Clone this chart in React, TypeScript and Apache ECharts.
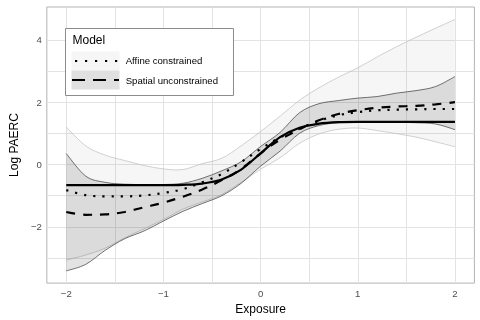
import React, { useEffect, useRef } from 'react';
import * as echarts from 'echarts';

// ---- data ----
const exposure = [-2, -1.8, -1.6, -1.4, -1.2, -1, -0.8, -0.6, -0.4, -0.2, 0, 0.2, 0.4, 0.6, 0.8, 1, 1.2, 1.4, 1.6, 1.8, 2];

const truth = [-0.66, -0.66, -0.66, -0.66, -0.66, -0.66, -0.65, -0.61, -0.48, -0.16, 0.36, 0.88, 1.18, 1.31, 1.36, 1.37, 1.37, 1.37, 1.37, 1.37, 1.37];

const affineFit = [-0.82, -0.98, -1.02, -1.02, -0.99, -0.91, -0.79, -0.57, -0.3, 0.08, 0.5, 0.87, 1.15, 1.4, 1.58, 1.68, 1.74, 1.76, 1.77, 1.78, 1.78];
const affineUpper = [1.2, 0.6, 0.3, 0.13, -0.03, -0.14, -0.16, 0.03, 0.2, 0.6, 1.06, 1.55, 2.06, 2.46, 2.8, 3.1, 3.45, 3.78, 4.08, 4.37, 4.65];
const affineLower = [-3.06, -2.9, -2.68, -2.35, -2.06, -1.76, -1.43, -1.2, -0.96, -0.57, -0.15, 0.22, 0.68, 0.98, 1.13, 1.17, 1.09, 0.99, 0.88, 0.73, 0.57];

const spatialFit = [-1.52, -1.61, -1.6, -1.52, -1.37, -1.22, -1.03, -0.8, -0.5, -0.14, 0.36, 0.8, 1.13, 1.42, 1.62, 1.74, 1.82, 1.86, 1.88, 1.93, 2.0];
const spatialUpper = [0.35, -0.37, -0.57, -0.63, -0.64, -0.64, -0.6, -0.44, -0.2, 0.09, 0.58, 1.03, 1.66, 1.95, 2.05, 2.13, 2.18, 2.29, 2.37, 2.5, 2.82];
const spatialLower = [-3.41, -3.2, -2.75, -2.38, -2.13, -1.81, -1.5, -1.25, -1.0, -0.6, -0.05, 0.43, 1.0, 1.25, 1.34, 1.37, 1.37, 1.36, 1.34, 1.3, 1.12];

const xTicks = [-2, -1, 0, 1, 2];
const xMinor = [-1.5, -0.5, 0.5, 1.5];
const yTicks = [-2, 0, 2, 4];
const yMinor = [-3, -1, 1, 3];

const legendTitle = 'Model';
const modelNames = ['Affine constrained', 'Spatial unconstrained'];

const FONT = '"Liberation Sans", Arial, Helvetica, sans-serif';

const pairs = (ys: number[]) => exposure.map((x, i) => [x, ys[i]]);
const fmt = (v: number) => (v < 0 ? '\u2212' + Math.abs(v) : String(v));

type P = number[];
// Catmull-Rom curve through points, as SVG path commands (no leading move)
function curve(pts: P[]): string {
  let d = '';
  for (let i = 0; i < pts.length - 1; i++) {
    const p0 = pts[i - 1] || pts[i];
    const p1 = pts[i];
    const p2 = pts[i + 1];
    const p3 = pts[i + 2] || p2;
    const c1x = p1[0] + (p2[0] - p0[0]) / 6;
    const c1y = p1[1] + (p2[1] - p0[1]) / 6;
    const c2x = p2[0] - (p3[0] - p1[0]) / 6;
    const c2y = p2[1] - (p3[1] - p1[1]) / 6;
    d += ` C${c1x.toFixed(2)},${c1y.toFixed(2)} ${c2x.toFixed(2)},${c2y.toFixed(2)} ${p2[0].toFixed(2)},${p2[1].toFixed(2)}`;
  }
  return d;
}

function ribbonSeries(name: string, upper: number[], lower: number[], fill: string, stroke: string, z: number) {
  return {
    type: 'custom',
    name,
    coordinateSystem: 'cartesian2d',
    silent: true,
    z,
    data: [[exposure[0], lower[0]]],
    renderItem: (_params: any, api: any) => {
      const up = exposure.map((x, i) => api.coord([x, upper[i]]));
      const lo = exposure.map((x, i) => api.coord([x, lower[i]]));
      const loRev = lo.slice().reverse();
      const fillD = `M${up[0][0]},${up[0][1]}` + curve(up) + ` L${loRev[0][0]},${loRev[0][1]}` + curve(loRev) + ' Z';
      const upD = `M${up[0][0]},${up[0][1]}` + curve(up);
      const loD = `M${lo[0][0]},${lo[0][1]}` + curve(lo);
      return {
        type: 'group',
        children: [
          { type: 'path', shape: { pathData: fillD }, style: { fill, stroke: 'none' } },
          { type: 'path', shape: { pathData: upD }, style: { fill: 'none', stroke, lineWidth: 0.7 } },
          { type: 'path', shape: { pathData: loD }, style: { fill: 'none', stroke, lineWidth: 0.7 } },
        ],
      };
    },
  };
}

export default function App() {
  const ref = useRef<HTMLDivElement>(null);
  useEffect(() => {
    const chart = echarts.init(ref.current!, null, { renderer: 'svg' });
    const SM = 0.35;
    const gridStyle = { color: '#e3e3e3', width: 1, type: 'solid' as const };
    const base = { type: 'line' as const, showSymbol: false, symbol: 'none', smooth: SM, silent: true, animation: false };
    const option: any = {
      animation: false,
      textStyle: { fontFamily: FONT },
      grid: { left: 37.4, right: 5.6, top: 7, bottom: 36, show: true, borderColor: '#b3b3b3', borderWidth: 1, backgroundColor: 'transparent' },
      xAxis: {
        type: 'value', min: -2.2, max: 2.2,
        axisLine: { show: false }, splitLine: { show: false },
        axisTick: { show: true, length: 3, lineStyle: { color: '#b3b3b3', width: 1 }, customValues: xTicks },
        axisLabel: { customValues: xTicks, formatter: fmt, color: '#4d4d4d', fontSize: 9.6, margin: 5, fontFamily: FONT },
        name: 'Exposure', nameLocation: 'middle', nameGap: 14,
        nameTextStyle: { color: '#000', fontSize: 12, fontFamily: FONT },
      },
      yAxis: {
        type: 'value', min: -3.8, max: 5.05,
        axisLine: { show: false }, splitLine: { show: false },
        axisTick: { show: true, length: 3, lineStyle: { color: '#b3b3b3', width: 1 }, customValues: yTicks },
        axisLabel: { customValues: yTicks, formatter: fmt, color: '#4d4d4d', fontSize: 9.6, margin: 5, fontFamily: FONT },
        name: 'Log PAERC', nameLocation: 'middle', nameGap: 20,
        nameTextStyle: { color: '#000', fontSize: 12, fontFamily: FONT },
      },
      series: [
        ribbonSeries('Affine band', affineUpper, affineLower, 'rgba(0,0,0,0.035)', '#bdbdbd', 2),
        ribbonSeries('Spatial band', spatialUpper, spatialLower, 'rgba(0,0,0,0.11)', '#3a3a3a', 3),
        {
          ...base, name: 'Truth', data: pairs(truth), lineStyle: { color: '#000', width: 2.2 }, z: 5,
          markLine: {
            silent: true, z: 1, symbol: ['none', 'none'], label: { show: false }, animation: false,
            lineStyle: gridStyle, emphasis: { disabled: true },
            data: [
              ...yTicks.map((v) => ({ yAxis: v })),
              ...yMinor.map((v) => ({ yAxis: v })),
              ...xTicks.map((v) => ({ xAxis: v })),
              ...xMinor.map((v) => ({ xAxis: v })),
            ],
          },
        },
        { ...base, name: modelNames[0], data: pairs(affineFit), lineStyle: { color: '#000', width: 2.2, type: [2.2, 7], cap: 'butt' }, z: 6 },
        { ...base, name: modelNames[1], data: pairs(spatialFit), lineStyle: { color: '#000', width: 2.2, type: [9, 8], cap: 'butt' }, z: 6 },
      ],
      graphic: {
        elements: [
          { type: 'rect', z: 50, shape: { x: 65.5, y: 28.5, width: 168, height: 67 }, style: { fill: '#fff', stroke: '#8c8c8c', lineWidth: 1 } },
          { type: 'text', z: 51, x: 72.5, y: 39.5, style: { text: legendTitle, fill: '#000', font: `12px ${FONT}`, verticalAlign: 'middle' } },
          { type: 'rect', z: 51, shape: { x: 71.5, y: 51.5, width: 48, height: 19 }, style: { fill: '#f6f6f6' } },
          { type: 'rect', z: 51, shape: { x: 71.5, y: 70.5, width: 48, height: 19 }, style: { fill: '#e0e0e0' } },
          { type: 'line', z: 52, shape: { x1: 75, y1: 61, x2: 119, y2: 61 }, style: { stroke: '#000', lineWidth: 2.2, lineDash: [2.2, 7.8], lineCap: 'butt' } },
          { type: 'line', z: 52, shape: { x1: 72, y1: 80, x2: 119, y2: 80 }, style: { stroke: '#000', lineWidth: 2.2, lineDash: [13, 8], lineCap: 'butt' } },
          { type: 'text', z: 52, x: 125.7, y: 60.5, style: { text: modelNames[0], fill: '#000', font: `9.6px ${FONT}`, verticalAlign: 'middle' } },
          { type: 'text', z: 52, x: 125.7, y: 80.5, style: { text: modelNames[1], fill: '#000', font: `9.6px ${FONT}`, verticalAlign: 'middle' } },
        ],
      },
    };
    chart.setOption(option);
    return () => chart.dispose();
  }, []);
  return <div ref={ref} style={{ position: 'fixed', left: 0, top: 0, width: 480, height: 320 }} />;
}
